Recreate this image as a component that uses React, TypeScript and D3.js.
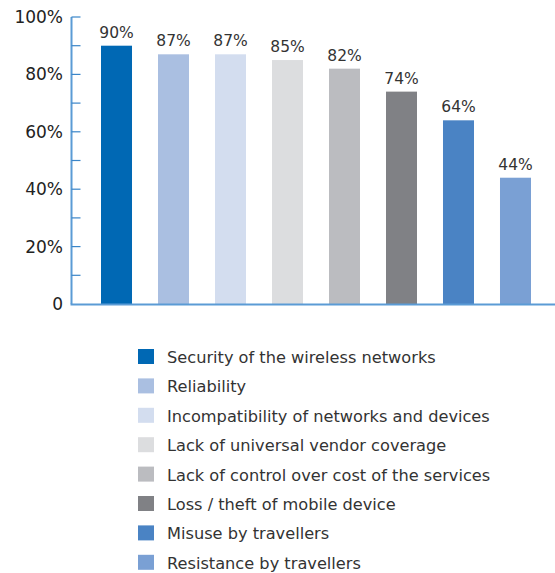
import React, { useEffect, useRef } from 'react';
import * as d3 from 'd3';

const categories = [
  'Security of the wireless networks',
  'Reliability',
  'Incompatibility of networks and devices',
  'Lack of universal vendor coverage',
  'Lack of control over cost of the services',
  'Loss / theft of mobile device',
  'Misuse by travellers',
  'Resistance by travellers',
];
const values = [90, 87, 87, 85, 82, 74, 64, 44];
const colors = ['#0068b4', '#aabfe1', '#d3ddef', '#dcdddf', '#bbbcc0', '#808185', '#4a83c4', '#7aa0d4'];
const yTicks = [0, 20, 40, 60, 80, 100];
const yMinorTicks = [10, 30, 50, 70, 90];

const FONT = '"DejaVu Sans", sans-serif';

export default function App() {
  const ref = useRef<SVGSVGElement>(null);

  useEffect(() => {
    if (!ref.current) return;
    const svg = d3.select(ref.current);
    svg.selectAll('*').remove();

    const axisX = 71.5;
    const y = d3.scaleLinear().domain([0, 100]).range([304, 17]);
    const x = d3.scaleBand<string>()
      .domain(categories)
      .range([72.5, 559.5])
      .paddingInner(0.456)
      .paddingOuter(0.5);

    const axisColor = '#5b9bd5';

    // bars
    svg.append('g').selectAll('rect')
      .data(values)
      .join('rect')
      .attr('x', (_, i) => x(categories[i])!)
      .attr('y', d => y(d))
      .attr('width', x.bandwidth())
      .attr('height', d => y(0) - y(d))
      .attr('fill', (_, i) => colors[i]);

    // value labels
    svg.append('g').selectAll('text')
      .data(values)
      .join('text')
      .attr('x', (_, i) => x(categories[i])! + x.bandwidth() / 2)
      .attr('y', d => y(d) - 8)
      .attr('text-anchor', 'middle')
      .attr('font-family', FONT)
      .attr('font-size', 15.5)
      .attr('fill', '#333')
      .text(d => `${d}%`);

    // axis lines
    svg.append('line')
      .attr('x1', axisX).attr('x2', axisX)
      .attr('y1', y(100)).attr('y2', y(0))
      .attr('stroke', axisColor).attr('stroke-width', 2);
    svg.append('line')
      .attr('x1', axisX - 1).attr('x2', 555)
      .attr('y1', y(0) + 0.5).attr('y2', y(0) + 0.5)
      .attr('stroke', axisColor).attr('stroke-width', 2);

    // ticks
    svg.append('g').selectAll('line')
      .data([...yTicks.filter(t => t > 0), ...yMinorTicks])
      .join('line')
      .attr('x1', axisX).attr('x2', axisX + 9)
      .attr('y1', d => y(d)).attr('y2', d => y(d))
      .attr('stroke', '#3a85c8').attr('stroke-width', 1.2);

    svg.append('g').selectAll('text')
      .data(yTicks)
      .join('text')
      .attr('x', 63)
      .attr('y', d => y(d) + 6)
      .attr('text-anchor', 'end')
      .attr('font-family', FONT)
      .attr('font-size', 17)
      .attr('fill', '#222')
      .text(d => (d === 0 ? '0' : `${d}%`));

    // legend
    const legend = svg.append('g').attr('transform', 'translate(138,349)');
    const row = legend.selectAll('g')
      .data(categories)
      .join('g')
      .attr('transform', (_, i) => `translate(0,${i * 29.4})`);
    row.append('rect')
      .attr('width', 16).attr('height', 15)
      .attr('fill', (_, i) => colors[i]);
    row.append('text')
      .attr('x', 29)
      .attr('y', 14)
      .attr('font-family', FONT)
      .attr('font-size', 16.2)
      .attr('fill', '#333')
      .text(d => d);
  }, []);

  return (
    <svg ref={ref} width={555} height={573} style={{ position: 'absolute', left: 0, top: 0, background: '#fff' }} />
  );
}
